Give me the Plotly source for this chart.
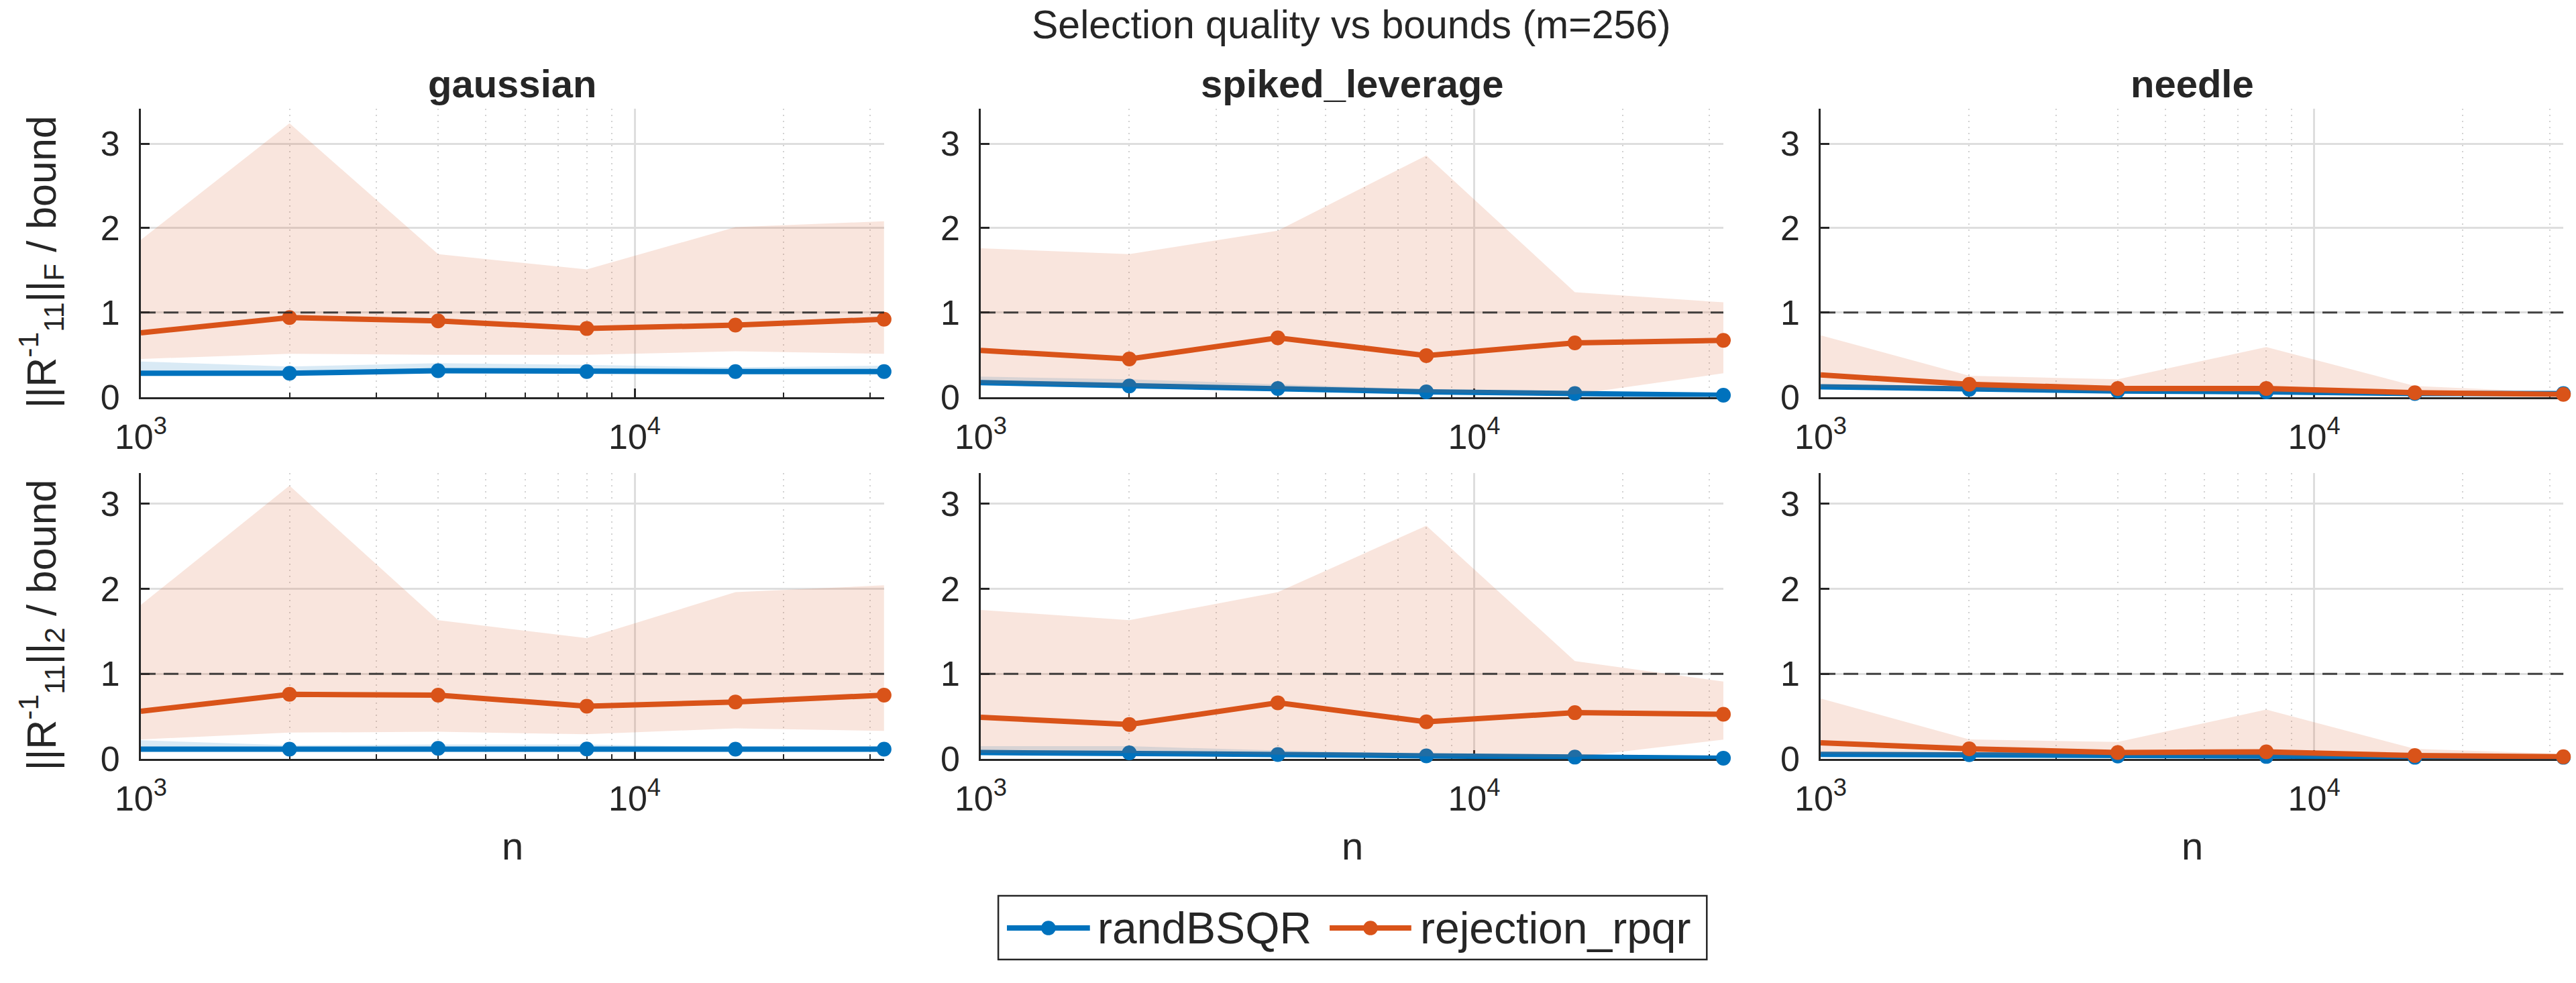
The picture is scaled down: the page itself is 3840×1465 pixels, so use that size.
import plotly.graph_objects as go

# ---------------- data ----------------
n_vals = [1000, 2000, 4000, 8000, 16000, 32000]
panel_titles = ["gaussian", "spiked_leverage", "needle"]
series_names = ["randBSQR", "rejection_rpqr"]
main_title = "Selection quality vs bounds (m=256)"
x_label = "n"
y_labels = ["||R<sup>-1</sup><sub>11</sub>||<sub>F</sub> / bound",
            "||R<sup>-1</sup><sub>11</sub>||<sub>2</sub> / bound"]
y_tick_vals = [0, 1, 2, 3]
x_major_vals = [1000, 10000]
x_major_text = ["10<sup>3</sup>", "10<sup>4</sup>"]
x_minor_vals = [2000, 3000, 4000, 5000, 6000, 7000, 8000, 9000, 20000, 30000]
bound_level = 1.0

# Frobenius-norm row
gauss_F_rand_mean = [0.28, 0.28, 0.31, 0.30, 0.30, 0.30]
gauss_F_rand_hi = [0.42, 0.36, 0.40, 0.38, 0.35, 0.37]
gauss_F_rand_lo = [0.26, 0.26, 0.28, 0.27, 0.27, 0.27]
gauss_F_rej_mean = [0.76, 0.94, 0.90, 0.81, 0.85, 0.92]
gauss_F_rej_hi = [1.86, 3.24, 1.69, 1.51, 2.01, 2.08]
gauss_F_rej_lo = [0.45, 0.51, 0.50, 0.50, 0.54, 0.51]

spiked_F_rand_mean = [0.17, 0.13, 0.10, 0.06, 0.04, 0.02]
spiked_F_rand_hi = [0.24, 0.21, 0.15, 0.09, 0.055, 0.03]
spiked_F_rand_lo = [0.14, 0.10, 0.08, 0.04, 0.03, 0.01]
spiked_F_rej_mean = [0.55, 0.45, 0.70, 0.49, 0.64, 0.67]
spiked_F_rej_hi = [1.76, 1.69, 1.97, 2.86, 1.24, 1.12]
spiked_F_rej_lo = [0.16, 0.12, 0.09, 0.05, 0.03, 0.28]

needle_F_rand_mean = [0.12, 0.09, 0.07, 0.06, 0.04, 0.04]
needle_F_rand_hi = [0.15, 0.11, 0.08, 0.07, 0.05, 0.05]
needle_F_rand_lo = [0.10, 0.07, 0.05, 0.04, 0.03, 0.03]
needle_F_rej_mean = [0.26, 0.15, 0.10, 0.10, 0.05, 0.03]
needle_F_rej_hi = [0.73, 0.25, 0.21, 0.59, 0.13, 0.05]
needle_F_rej_lo = [0.12, 0.08, 0.06, 0.05, 0.03, 0.02]

# spectral-norm row
gauss_2_rand_mean = [0.115, 0.115, 0.125, 0.118, 0.115, 0.115]
gauss_2_rand_hi = [0.22, 0.16, 0.17, 0.17, 0.14, 0.15]
gauss_2_rand_lo = [0.10, 0.10, 0.11, 0.10, 0.10, 0.10]
gauss_2_rej_mean = [0.56, 0.76, 0.75, 0.62, 0.67, 0.75]
gauss_2_rej_hi = [1.81, 3.21, 1.63, 1.42, 1.96, 2.04]
gauss_2_rej_lo = [0.23, 0.31, 0.32, 0.29, 0.36, 0.33]

spiked_2_rand_mean = [0.076, 0.072, 0.053, 0.037, 0.022, 0.010]
spiked_2_rand_hi = [0.15, 0.15, 0.10, 0.06, 0.04, 0.02]
spiked_2_rand_lo = [0.05, 0.05, 0.035, 0.02, 0.01, 0.005]
spiked_2_rej_mean = [0.49, 0.405, 0.66, 0.436, 0.544, 0.525]
spiked_2_rej_hi = [1.75, 1.63, 1.96, 2.74, 1.15, 0.91]
spiked_2_rej_lo = [0.07, 0.07, 0.05, 0.03, 0.02, 0.227]

needle_2_rand_mean = [0.055, 0.05, 0.035, 0.03, 0.02, 0.02]
needle_2_rand_hi = [0.07, 0.06, 0.045, 0.04, 0.025, 0.025]
needle_2_rand_lo = [0.04, 0.035, 0.025, 0.02, 0.015, 0.015]
needle_2_rej_mean = [0.19, 0.12, 0.076, 0.084, 0.041, 0.026]
needle_2_rej_hi = [0.71, 0.23, 0.20, 0.58, 0.12, 0.06]
needle_2_rej_lo = [0.06, 0.05, 0.04, 0.03, 0.02, 0.02]

panels = [
    [  # row 0: F-norm
        [(gauss_F_rand_mean, gauss_F_rand_lo, gauss_F_rand_hi), (gauss_F_rej_mean, gauss_F_rej_lo, gauss_F_rej_hi)],
        [(spiked_F_rand_mean, spiked_F_rand_lo, spiked_F_rand_hi), (spiked_F_rej_mean, spiked_F_rej_lo, spiked_F_rej_hi)],
        [(needle_F_rand_mean, needle_F_rand_lo, needle_F_rand_hi), (needle_F_rej_mean, needle_F_rej_lo, needle_F_rej_hi)],
    ],
    [  # row 1: 2-norm
        [(gauss_2_rand_mean, gauss_2_rand_lo, gauss_2_rand_hi), (gauss_2_rej_mean, gauss_2_rej_lo, gauss_2_rej_hi)],
        [(spiked_2_rand_mean, spiked_2_rand_lo, spiked_2_rand_hi), (spiked_2_rej_mean, spiked_2_rej_lo, spiked_2_rej_hi)],
        [(needle_2_rand_mean, needle_2_rand_lo, needle_2_rand_hi), (needle_2_rej_mean, needle_2_rej_lo, needle_2_rej_hi)],
    ],
]

# ---------------- style / layout ----------------
W, H = 3840, 1465
FONT = "Liberation Sans, Arial, Helvetica, sans-serif"
TXT = "#262626"
colors = ["#0072BD", "#D95319"]
fills = ["rgba(0,114,189,0.15)", "rgba(217,83,25,0.15)"]
col_px = [(172.7, 1292.0), (1437.6, 2556.0), (2702.5, 3821.0)]
row_px = [(165.7, 603.5), (719.0, 1154.0)]
y_max = [3.41, 3.36]


def px(x):
    return x / W


def py(y):
    return 1 - y / H


fig = go.Figure()
layout = dict(
    width=W, height=H, margin=dict(l=0, r=0, t=0, b=0),
    paper_bgcolor="white", plot_bgcolor="white",
    showlegend=False, font=dict(family=FONT, color=TXT, size=52),
)
shapes = []
annotations = []

for r in range(2):
    for c in range(3):
        k = r * 3 + c + 1
        xs = "x" if k == 1 else f"x{k}"
        ys = "y" if k == 1 else f"y{k}"
        xa = "xaxis" if k == 1 else f"xaxis{k}"
        ya = "yaxis" if k == 1 else f"yaxis{k}"
        x0, x1 = col_px[c]
        yt, yb = row_px[r]
        layout[xa] = dict(
            type="log", domain=[px(x0), px(x1)], anchor=ys,
            range=[3, 4.50515], tickmode="array", tickvals=x_major_vals, ticktext=x_major_text,
            ticks="inside", ticklen=13, tickwidth=2.5, tickcolor=TXT,
            showline=True, linecolor=TXT, linewidth=2.5, mirror=False,
            showgrid=True, gridcolor="#dedede", gridwidth=2.5, zeroline=False,
            tickfont=dict(size=52, color=TXT, family=FONT), ticklabelstandoff=12,
            layer="below traces",
            minor=dict(tickmode="array", tickvals=x_minor_vals, ticks="inside", ticklen=7,
                       tickwidth=2, tickcolor=TXT, showgrid=True, gridcolor="#d2d2d2",
                       gridwidth=2, griddash="2px,7px"),
        )
        layout[ya] = dict(
            domain=[py(yb), py(yt)], anchor=xs, range=[0, y_max[r]],
            tickmode="array", tickvals=y_tick_vals,
            ticks="inside", ticklen=13, tickwidth=2.5, tickcolor=TXT,
            showline=True, linecolor=TXT, linewidth=2.5, mirror=False,
            showgrid=True, gridcolor="#dedede", gridwidth=2.5, zeroline=False,
            tickfont=dict(size=52, color=TXT, family=FONT), ticklabelstandoff=18,
            layer="below traces",
        )
        for s in range(2):
            mean, lo, hi = panels[r][c][s]
            fig.add_trace(go.Scatter(
                x=n_vals + n_vals[::-1], y=hi + lo[::-1], xaxis=xs, yaxis=ys,
                fill="toself", fillcolor=fills[s], line=dict(width=0),
                mode="lines", hoverinfo="skip", showlegend=False,
            ))
            fig.add_trace(go.Scatter(
                x=n_vals, y=mean, xaxis=xs, yaxis=ys, name=series_names[s],
                mode="lines+markers", line=dict(color=colors[s], width=8),
                marker=dict(color=colors[s], size=22), cliponaxis=False,
                showlegend=False,
            ))
        # bound reference line
        shapes.append(dict(
            type="line", xref=f"{xs} domain", yref=ys, x0=0, x1=1, y0=bound_level, y1=bound_level,
            line=dict(color="rgba(38,38,38,0.85)", width=3, dash="22px,12px"), layer="above",
        ))
        if r == 0:
            annotations.append(dict(
                text=f"<b>{panel_titles[c]}</b>", x=px((x0 + x1) / 2), y=py(162),
                xref="paper", yref="paper", xanchor="center", yanchor="bottom",
                showarrow=False, font=dict(size=58, color=TXT, family=FONT),
            ))
        else:
            annotations.append(dict(
                text=x_label, x=px((x0 + x1) / 2), y=py(1286),
                xref="paper", yref="paper", xanchor="center", yanchor="middle",
                showarrow=False, font=dict(size=58, color=TXT, family=FONT),
            ))
    yt, yb = row_px[r]
    annotations.append(dict(
        text=y_labels[r], x=px(22), y=py((yt + yb) / 2 + 14), textangle=-90,
        xref="paper", yref="paper", xanchor="center", yanchor="middle",
        showarrow=False, font=dict(size=61, color=TXT, family=FONT),
    ))

annotations.append(dict(
    text=main_title, x=px(1996), y=py(38), xref="paper", yref="paper",
    xanchor="center", yanchor="middle", showarrow=False,
    font=dict(size=59, color=TXT, family=FONT),
))

# custom legend (box, line samples, markers, labels)
shapes.append(dict(type="rect", xref="paper", yref="paper",
                   x0=px(1464), x1=px(2531), y0=py(1459), y1=py(1362),
                   line=dict(color=TXT, width=2.5), fillcolor="white", layer="above"))
leg_items = [(1477, 1602, 1611), (1963, 2086, 2097)]
leg_y = 1411
for s, (lx0, lx1, tx) in enumerate(leg_items):
    shapes.append(dict(type="line", xref="paper", yref="paper",
                       x0=px(lx0), x1=px(lx1), y0=py(leg_y), y1=py(leg_y),
                       line=dict(color=colors[s], width=8), layer="above"))
    cx = (lx0 + lx1) / 2
    shapes.append(dict(type="circle", xref="paper", yref="paper",
                       x0=px(cx - 11), x1=px(cx + 11), y0=py(leg_y + 11), y1=py(leg_y - 11),
                       line=dict(color=colors[s], width=0), fillcolor=colors[s], layer="above"))
    annotations.append(dict(
        text=series_names[s], x=px(tx), y=py(leg_y), xref="paper", yref="paper",
        xanchor="left", yanchor="middle", showarrow=False,
        font=dict(size=66, color=TXT, family=FONT),
    ))

layout["shapes"] = shapes
layout["annotations"] = annotations
fig.update_layout(**layout)
fig.write_html("out.html")
